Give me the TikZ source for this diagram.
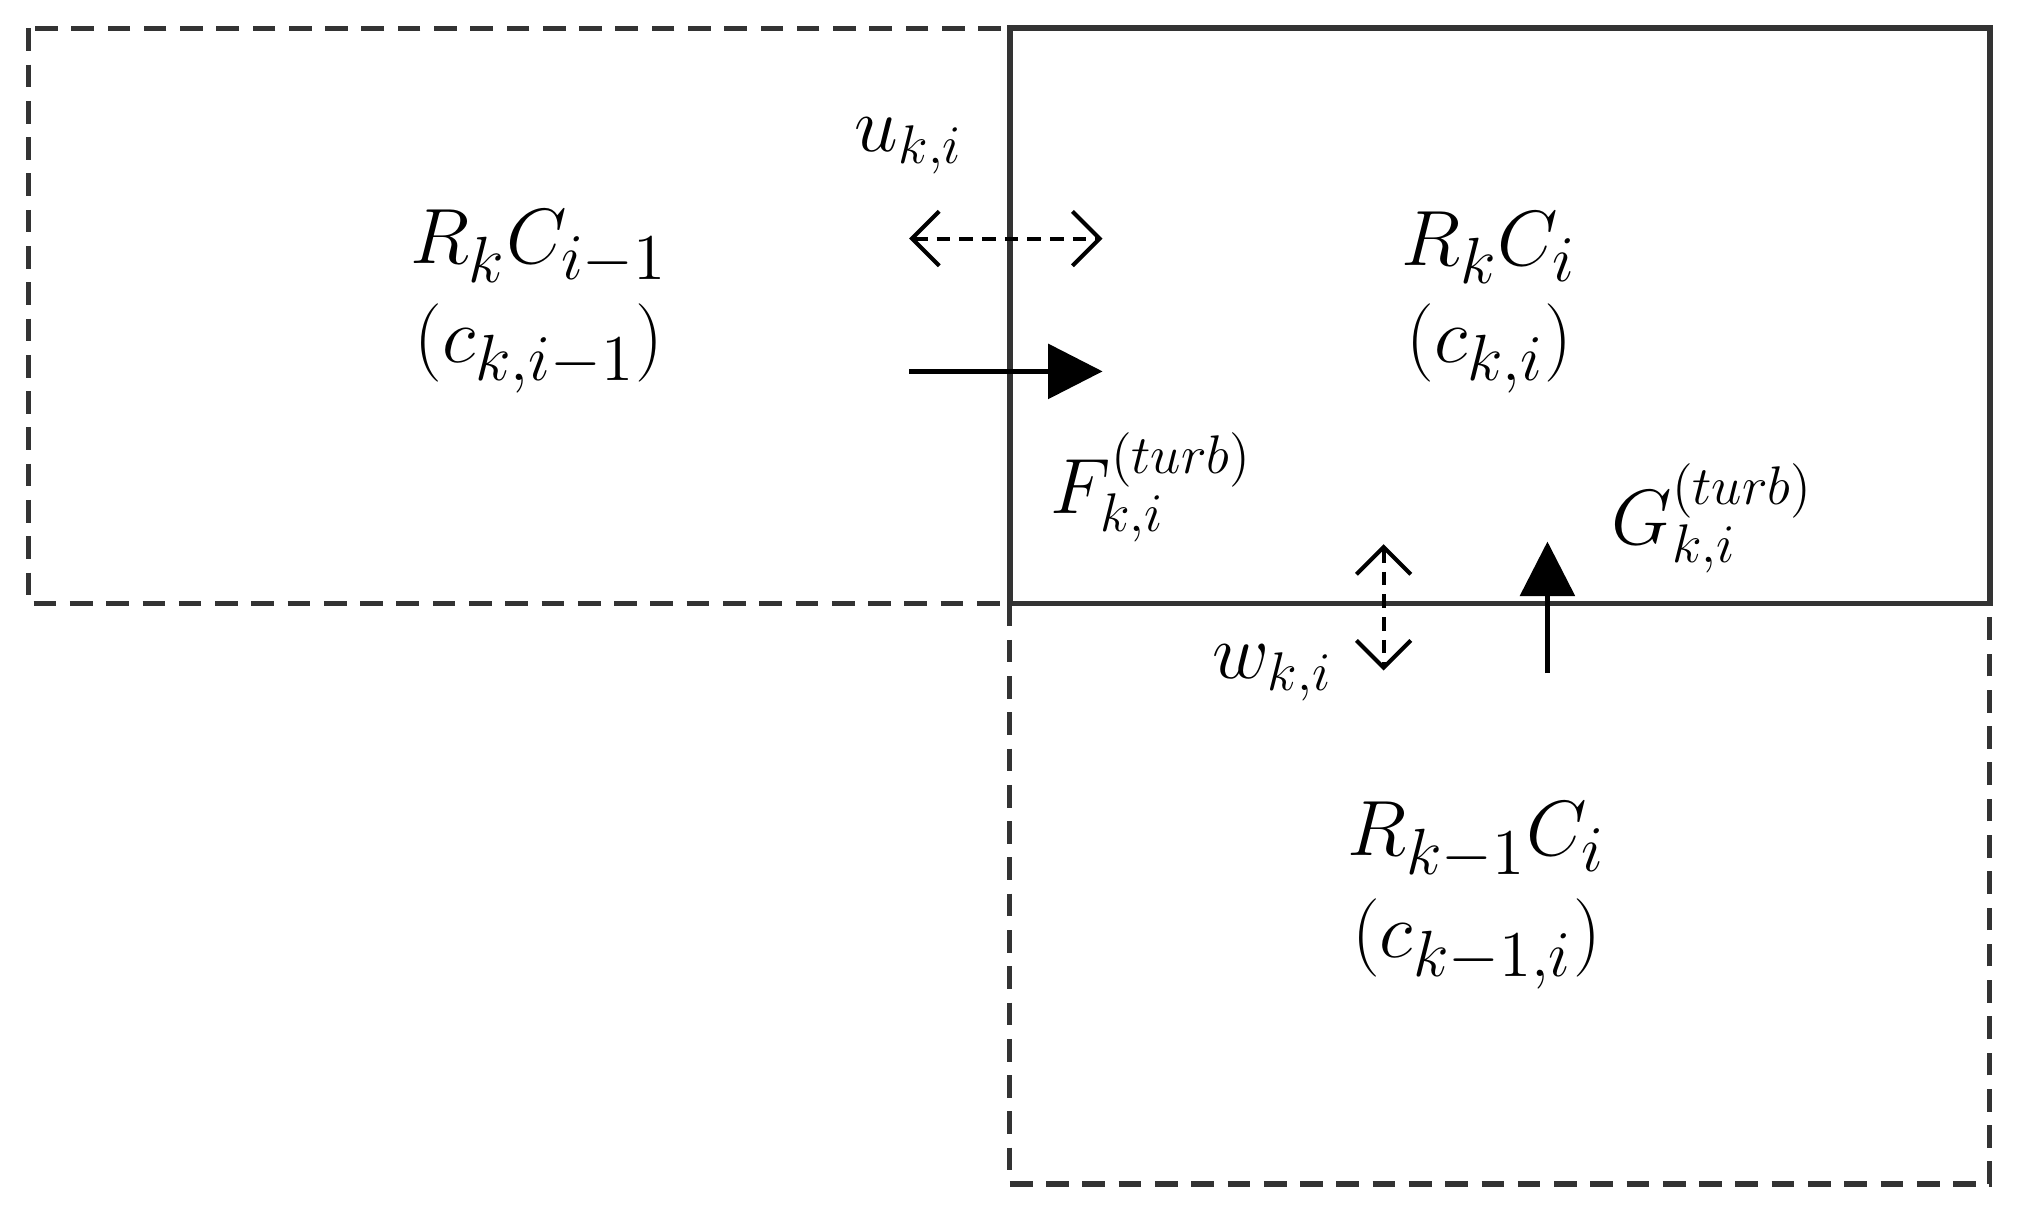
\documentclass[tikz,border=0pt]{standalone}
\usetikzlibrary{arrows.meta}
\begin{document}
\begin{tikzpicture}[x=0.01cm,y=-0.01cm,
  dbox/.style={draw=black!80,dashed,line width=1.2pt,dash pattern=on 5pt off 3pt},
  sbox/.style={draw=black!80,line width=1.3pt},
  lbl/.style={inner sep=0pt,font=\fontsize{19}{23}\selectfont},
  sml/.style={inner sep=0pt,font=\fontsize{17}{20}\selectfont},
  darr/.style={dashed,line width=0.9pt,dash pattern=on 3pt off 2pt,{Straight Barb[length=6pt,width=12pt]}-{Straight Barb[length=6pt,width=12pt]}},
  sarr/.style={line width=1pt,-{Triangle[length=12pt,width=12pt]}}]
\useasboundingbox (0,0) rectangle (1568,945);
\draw[dbox] (22,22) rectangle (783,468);
\draw[dbox] (783,468) rectangle (1543,918);
\draw[sbox] (783,22) rectangle (1543,468);
\node[lbl] (a1) at (418,192) {$R_kC_{i-1}$};
\node[lbl] (a2) at (418,270) {$(c_{k,i-1})$};
\node[lbl] (b1) at (1155,192) {$R_kC_i$};
\node[lbl] (b2) at (1155,270) {$(c_{k,i})$};
\node[lbl] (c1) at (1145,652) {$R_{k-1}C_i$};
\node[lbl] (c2) at (1145,732) {$(c_{k-1,i})$};
\node[sml] (u) at (705,113) {$u_{k,i}$};
\node[sml] (f) at (893,378) {$F_{k,i}^{(turb)}$};
\node[sml] (w) at (987,522) {$w_{k,i}$};
\node[sml] (g) at (1328,402) {$G_{k,i}^{(turb)}$};
\coordinate (u1) at (705,185); \coordinate (u2) at (855,185);
\coordinate (f1) at (705,288); \coordinate (f2) at (855,288);
\coordinate (w1) at (1073,422); \coordinate (w2) at (1073,520);
\coordinate (g1) at (1200,522); \coordinate (g2) at (1200,420);
\draw[darr] (u1) -- (u2);
\draw[sarr] (f1) -- (f2);
\draw[darr] (w1) -- (w2);
\draw[sarr] (g1) -- (g2);
\end{tikzpicture}
\end{document}
